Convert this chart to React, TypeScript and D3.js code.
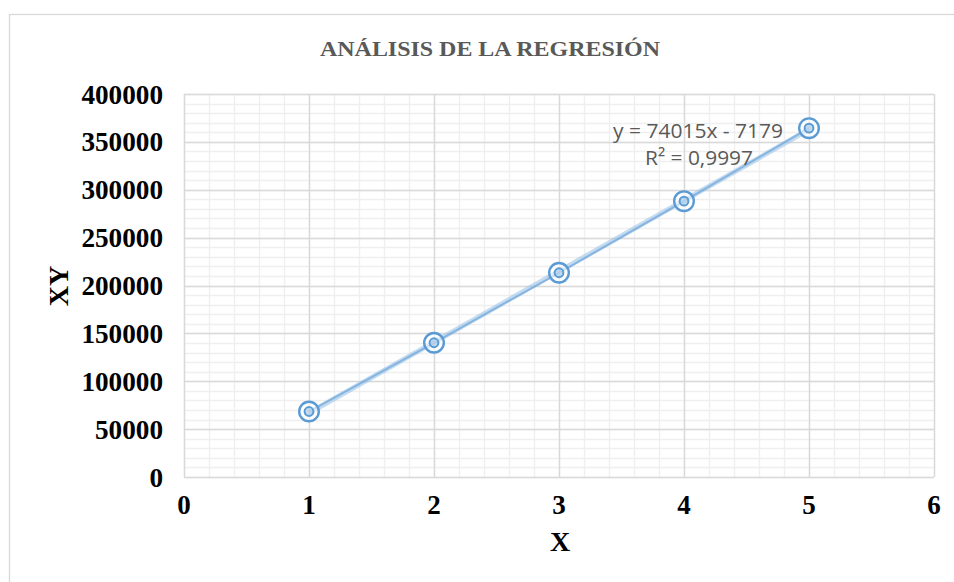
import React, { useEffect, useRef } from "react";
import * as d3 from "d3";

const xValues = [1, 2, 3, 4, 5];
const xyValues = [68400, 140200, 213300, 288100, 364300];
const xTicks = [0, 1, 2, 3, 4, 5, 6];
const yTicks = [0, 50000, 100000, 150000, 200000, 250000, 300000, 350000, 400000];
const trendSlope = 74015;
const trendIntercept = -7179;
const titleText = "ANÁLISIS DE LA REGRESIÓN";
const xTitle = "X";
const yTitle = "XY";
const eqLine1 = "y = 74015x - 7179";
const eqLine2 = "R² = 0,9997";

const W = 954;
const H = 582;
const M = { left: 184, right: 934, top: 94, bottom: 477 };

export default function App() {
  const ref = useRef<SVGSVGElement | null>(null);

  useEffect(() => {
    const svg = d3.select(ref.current);
    svg.selectAll("*").remove();

    const x = d3.scaleLinear().domain([0, 6]).range([M.left, M.right]);
    const y = d3.scaleLinear().domain([0, 400000]).range([M.bottom, M.top]);

    svg.append("rect").attr("x", 0).attr("y", 0).attr("width", W).attr("height", H).attr("fill", "#fff");
    svg.append("rect").attr("x", 9.5).attr("y", 14.5).attr("width", 1000).attr("height", 600)
      .attr("fill", "none").attr("stroke", "#d9d9d9").attr("stroke-width", 1.3);

    const g = svg.append("g");
    const minorX = d3.range(0, 6.0001, 0.2);
    const minorY = d3.range(0, 400001, 10000);
    g.selectAll("line.mx").data(minorX).enter().append("line")
      .attr("x1", d => Math.round(x(d)) + 0.5).attr("x2", d => Math.round(x(d)) + 0.5)
      .attr("y1", M.top).attr("y2", M.bottom).attr("stroke", "#efefef").attr("stroke-width", 1.4);
    g.selectAll("line.my").data(minorY).enter().append("line")
      .attr("y1", d => Math.round(y(d)) + 0.5).attr("y2", d => Math.round(y(d)) + 0.5)
      .attr("x1", M.left).attr("x2", M.right).attr("stroke", "#efefef").attr("stroke-width", 1.4);
    g.selectAll("line.Mx").data(xTicks).enter().append("line")
      .attr("x1", d => Math.round(x(d)) + 0.5).attr("x2", d => Math.round(x(d)) + 0.5)
      .attr("y1", M.top).attr("y2", M.bottom).attr("stroke", "#d9d9d9").attr("stroke-width", 1.4);
    g.selectAll("line.My").data(yTicks).enter().append("line")
      .attr("y1", d => Math.round(y(d)) + 0.5).attr("y2", d => Math.round(y(d)) + 0.5)
      .attr("x1", M.left).attr("x2", M.right).attr("stroke", "#d9d9d9").attr("stroke-width", 1.4);

    svg.selectAll("text.yt").data(yTicks).enter().append("text")
      .attr("x", 163).attr("y", d => y(d) + 9.5)
      .attr("text-anchor", "end")
      .attr("font-family", "'Liberation Serif', 'Times New Roman', serif")
      .attr("font-weight", "bold").attr("font-size", 27).attr("fill", "#000")
      .attr("textLength", d => String(d).length * 13.6)
      .attr("lengthAdjust", "spacingAndGlyphs")
      .text(d => String(d));
    svg.selectAll("text.xt").data(xTicks).enter().append("text")
      .attr("x", d => x(d)).attr("y", 514)
      .attr("text-anchor", "middle")
      .attr("font-family", "'Liberation Serif', 'Times New Roman', serif")
      .attr("font-weight", "bold").attr("font-size", 27).attr("fill", "#000")
      .text(d => String(d));

    const tl = d3.line<number>().x(d => x(d)).y(d => y(trendSlope * d + trendIntercept));
    svg.append("path").datum([1, 5]).attr("d", tl)
      .attr("fill", "none").attr("stroke", "#9dc3e6").attr("stroke-width", 5).attr("stroke-opacity", 0.6);
    const dl = d3.line<number>().x((d, i) => x(xValues[i])).y(d => y(d));
    svg.append("path").datum(xyValues).attr("d", dl)
      .attr("fill", "none").attr("stroke", "#5b9bd5").attr("stroke-width", 2).attr("stroke-opacity", 0.6);

    const mk = svg.selectAll("g.mk").data(xyValues).enter().append("g")
      .attr("transform", (d, i) => `translate(${x(xValues[i])},${y(d)})`);
    mk.append("circle").attr("r", 9.8).attr("fill", "rgba(255,255,255,0.6)").attr("stroke", "#5b9bd5").attr("stroke-width", 2.4);
    mk.append("circle").attr("r", 4.4).attr("fill", "rgba(157,195,230,0.6)").attr("stroke", "#5b9bd5").attr("stroke-width", 2);

    svg.append("text").attr("x", 698).attr("y", 138).attr("text-anchor", "middle")
      .attr("font-family", "'Open Sans', 'Liberation Sans', sans-serif").attr("font-size", 20.5).attr("fill", "#595959")
      .attr("textLength", 170).attr("lengthAdjust", "spacingAndGlyphs")
      .text(eqLine1);
    svg.append("text").attr("x", 699).attr("y", 165).attr("text-anchor", "middle")
      .attr("font-family", "'Open Sans', 'Liberation Sans', sans-serif").attr("font-size", 20.5).attr("fill", "#595959")
      .attr("textLength", 108).attr("lengthAdjust", "spacingAndGlyphs")
      .text(eqLine2);

    svg.append("text").attr("x", 490).attr("y", 56).attr("text-anchor", "middle")
      .attr("font-family", "'Liberation Serif', 'Times New Roman', serif")
      .attr("font-weight", "bold").attr("font-size", 22).attr("fill", "#595959")
      .attr("textLength", 340).attr("lengthAdjust", "spacingAndGlyphs")
      .text(titleText);

    svg.append("text").attr("x", 560).attr("y", 551).attr("text-anchor", "middle")
      .attr("font-family", "'Liberation Serif', 'Times New Roman', serif")
      .attr("font-weight", "bold").attr("font-size", 28).attr("fill", "#000")
      .text(xTitle);
    svg.append("text").attr("transform", "translate(68,286) rotate(-90)").attr("text-anchor", "middle")
      .attr("font-family", "'Liberation Serif', 'Times New Roman', serif")
      .attr("font-weight", "bold").attr("font-size", 28).attr("fill", "#000")
      .text(yTitle);
  }, []);

  return (
    <svg ref={ref} width={W} height={H} style={{ position: "absolute", left: 0, top: 0, display: "block" }} />
  );
}
